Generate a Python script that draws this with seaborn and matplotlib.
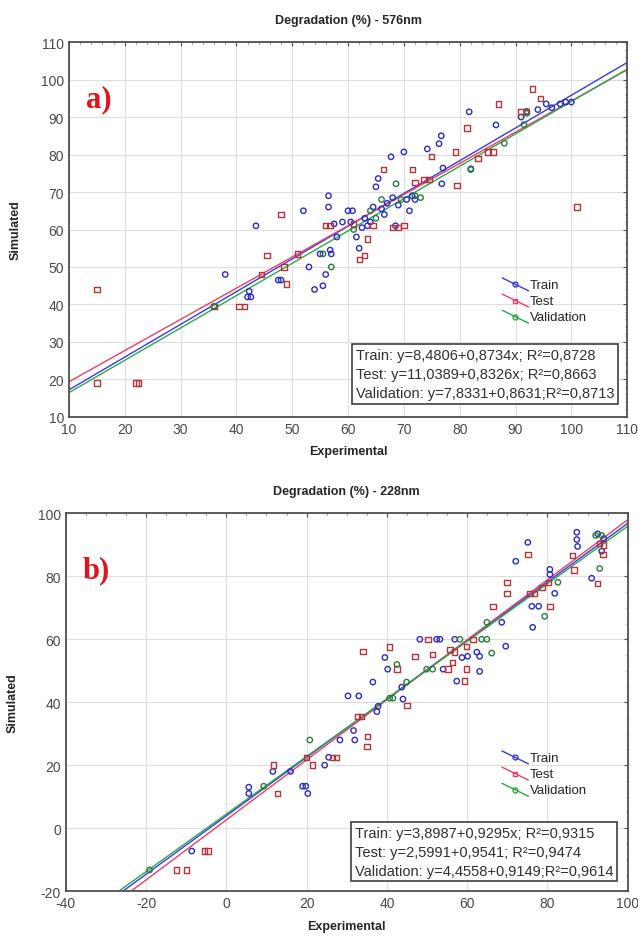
import numpy as np
import pandas as pd
import seaborn as sns
import matplotlib
matplotlib.use("Agg")
from matplotlib import pyplot as plt
from matplotlib.lines import Line2D
from matplotlib.legend_handler import HandlerBase

# ---------------- data: Degradation (%) - 576nm ----------------
a_train_x = [38, 42, 42.3, 42.6, 43.5, 47.5, 48, 52, 53, 54, 55, 55.5, 56, 56.5, 56.5, 56.8, 57, 57.5,
             58, 59, 60, 60.8, 60.5, 61.5, 62, 62.5, 63, 63.5, 64, 64.5, 65, 65.4, 66, 66.5, 67, 67.7,
             68, 68.5, 69, 70, 70.5, 71, 71.5, 72, 74.2, 76.3, 76.7, 76.8, 77, 82, 81.7, 86.5, 91, 92,
             94, 95.5, 96.5, 98, 99, 100]
a_train_y = [48, 42, 43.5, 42, 61, 46.5, 46.5, 65, 50, 44, 53.5, 45, 48, 69, 66, 54.5, 53.5, 61.5,
             58, 62, 65, 65, 62, 58, 55, 60.5, 63, 61, 62, 66, 71.4, 73.6, 65.5, 64, 67, 79.4,
             68.5, 61, 66.5, 80.7, 68, 65, 69, 68, 81.5, 82.9, 85, 72.2, 76.4, 76.2, 91.4, 87.9, 90, 91.5,
             92, 93.5, 92.5, 93.5, 94, 94]
a_test_x = [15, 15, 22, 22.5, 36, 40.5, 41.5, 44.5, 45.5, 48, 48.5, 49, 51, 56, 56.8, 61, 62, 63,
            63.5, 64.5, 66.3, 68, 69, 70, 71.5, 72, 73.6, 74.5, 74.9, 79.2, 79.5, 81.3, 83.3, 85.1,
            86, 86.9, 91, 92, 93, 94.5, 101]
a_test_y = [44, 19, 19, 19, 39.5, 39.5, 39.5, 48, 53, 64, 50, 45.5, 53.5, 61, 61, 61.5, 52, 53,
            57.5, 61, 76, 60.5, 60.5, 61, 76, 72.5, 73.3, 73.3, 79.4, 80.7, 71.7, 87.1, 79, 80.7,
            80.7, 93.5, 91.5, 91.5, 97.5, 95, 66]
a_val_x = [36, 55.5, 57, 61, 64, 65, 66, 68.6, 69.5, 72, 73, 82, 88, 91.5, 92]
a_val_y = [39.5, 53.5, 50, 60, 65, 63, 68, 72.2, 68, 69, 68.5, 76, 83, 88, 91]

# fitted lines (intercept, slope) and box text, Train / Test / Validation
a_fit = [(8.4806, 0.8734), (11.0389, 0.8326), (7.8331, 0.8631)]
a_box = ["Train: y=8,4806+0,8734x; R²=0,8728",
         "Test: y=11,0389+0,8326x; R²=0,8663",
         "Validation: y=7,8331+0,8631;R²=0,8713"]

# ---------------- data: Degradation (%) - 228nm ----------------
b_train_x = [-8.6, 5.6, 5.6, 11.6, 16, 19, 19.8, 20.3, 24.5, 25.5, 28.3, 30.3, 33, 31.7, 32, 36.5,
             37.5, 37.8, 39.5, 40.2, 43.7, 44, 48.2, 52.4, 53.2, 54, 56.9, 57.4, 58.7, 60.1, 62.4,
             63.1, 63.1, 68.6, 69.6, 72.1, 75.1, 76.1, 77.8, 76.3, 80.6, 80.6, 81.8, 87.3, 87.3,
             87.5, 91, 92.5, 94, 93.5]
b_train_y = [-7.3, 13, 11, 18, 18, 13.3, 13.3, 11, 20, 22.5, 28, 42, 42, 31, 28, 46.4,
             37, 38.7, 54.2, 50.5, 44.8, 41, 60, 60, 60, 50.5, 60, 46.7, 54.2, 54.6, 55.9,
             54.6, 49.8, 65.4, 57.8, 84.8, 90.8, 70.5, 70.5, 63.8, 82.2, 80.6, 74.6, 94, 91.7,
             89.5, 79.4, 93.5, 92, 88]
b_test_x = [-12.4, -9.9, -5.4, -4.6, 11.8, 12.8, 20, 21.5, 26.5, 27.5, 32.7, 33.7, 35.2, 35, 34,
            40.7, 42.5, 45, 47, 50.2, 51.4, 55.2, 55.7, 56.9, 56.4, 59.4, 59.9, 59.9, 61.4, 66.4,
            69.9, 69.9, 75.1, 75.6, 76.8, 78.6, 80.3, 80.6, 86.3, 86.6, 92.5, 93.8, 93, 94]
b_test_y = [-13.3, -13.3, -7.3, -7.3, 20, 11, 22.5, 20, 22.5, 22.5, 35.5, 35.5, 29.2, 26, 56.2,
            57.5, 50.5, 39, 54.6, 60, 55.2, 50.5, 56.8, 55.9, 52.7, 46.7, 57.8, 50.5, 60, 70.5,
            78.1, 74.6, 87, 74.6, 74.6, 76.5, 78.1, 70.5, 86.7, 82, 77.8, 87, 90.5, 90]
b_val_x = [-19.1, 9.3, 20.8, 40.7, 41.5, 42.5, 44.9, 49.9, 51.4, 58.2, 63.6, 64.9, 66.1, 64.9,
           79.3, 82.6, 93, 92, 93.5]
b_val_y = [-13.3, 13.3, 28, 41.3, 41.3, 52, 46.4, 50.5, 50.5, 60, 60, 60, 55.6, 65.4,
           67.3, 78.1, 82.5, 93, 93]

b_fit = [(3.8987, 0.9295), (2.5991, 0.9541), (4.4558, 0.9149)]
b_box = ["Train: y=3,8987+0,9295x; R²=0,9315",
         "Test: y=2,5991+0,9541; R²=0,9474",
         "Validation: y=4,4558+0,9149;R²=0,9614"]

groups = ["Train", "Test", "Validation"]
pt_colors = {"Train": "#2b2bc8", "Test": "#b8323a", "Validation": "#2a7d3a"}
ln_colors = {"Train": "#3a3ae0", "Test": "#e8406a", "Validation": "#2aa84a"}
markers = {"Train": "o", "Test": "s", "Validation": "o"}


class DiagHandler(HandlerBase):
    # Statistica-style legend key: slanted line with the marker in the middle
    def create_artists(self, legend, orig_handle, xdescent, ydescent, width, height, fontsize, trans):
        x0, x1 = -xdescent, -xdescent + width
        y0, y1 = -ydescent + height * 1.1, -ydescent - height * 0.3
        c = orig_handle.get_color()
        ln = Line2D([x0, x1], [y0, y1], color=c, lw=1.0, transform=trans)
        mk = Line2D([(x0 + x1) / 2], [(y0 + y1) / 2], marker=orig_handle.get_marker(), ms=3.5,
                    mfc="none", mec=c, mew=1.0, ls="none", transform=trans)
        return [ln, mk]


def make_df(tx, ty, sx, sy, vx, vy):
    parts = []
    for g, xs, ys in zip(groups, [tx, sx, vx], [ty, sy, vy]):
        parts.append(pd.DataFrame({"Experimental": xs, "Simulated": ys, "set": g}))
    return pd.concat(parts, ignore_index=True)


def panel(ax, df, fit, box, lims, ticks, title, tag, box_y, leg_y):
    xlo, xhi, ylo, yhi = lims
    # regression lines across the full x range
    for g, (b0, b1) in zip(groups, fit):
        xs = np.array([xlo, xhi])
        sns.lineplot(x=xs, y=b0 + b1 * xs, ax=ax, color=ln_colors[g], lw=1.0, zorder=2)
    for g in groups:
        d = df[df["set"] == g]
        sns.scatterplot(data=d, x="Experimental", y="Simulated", ax=ax, marker=markers[g],
                        s=15, facecolors="none", edgecolor=pt_colors[g], linewidth=1.0, zorder=3)
    ax.set_xlim(xlo, xhi)
    ax.set_ylim(ylo, yhi)
    ax.set_xticks(ticks[0])
    ax.set_yticks(ticks[1])
    ax.grid(True, color="#dedede", lw=0.8)
    ax.set_axisbelow(True)
    for sp in ax.spines.values():
        sp.set_color("#505050")
        sp.set_linewidth(1.3)
    ax.tick_params(direction="in", top=True, right=True, length=3, colors="#505050",
                   labelcolor="#4a4a4a", labelsize=10)
    ax.minorticks_on()
    ax.tick_params(which="minor", direction="in", top=True, right=True, length=1.5, colors="#707070")
    ax.set_xlabel("Experimental", fontsize=9, fontweight="bold", labelpad=7)
    ax.set_ylabel("Simulated", fontsize=9, fontweight="bold", labelpad=14)
    ax.set_title(title, fontsize=9, fontweight="bold", pad=14)
    ax.text(0.03, 0.85, tag, transform=ax.transAxes, color="#e0141e", fontsize=22,
            fontweight="bold", family="Liberation Serif", va="center")
    handles = [Line2D([], [], color=ln_colors[g], marker=markers[g]) for g in groups]
    ax.legend(handles, groups, loc="upper left", bbox_to_anchor=(0.755, leg_y),
              frameon=False, fontsize=9.5, handlelength=2.0, handletextpad=0.1, labelspacing=0.3,
              handler_map={Line2D: DiagHandler()})
    ax.text(0.514, box_y, "\n".join(box), transform=ax.transAxes, ha="left", va="bottom",
            fontsize=10.5, color="#303030", linespacing=1.45,
            bbox=dict(boxstyle="square,pad=0.25", fc="white", ec="#404040", lw=1.2))


sns.set_style("whitegrid")
plt.rcParams["font.family"] = ["Liberation Sans", "DejaVu Sans"]
plt.rcParams["axes.unicode_minus"] = False

fig = plt.figure(figsize=(6.38, 9.37), dpi=100)
ax1 = fig.add_axes([0.108, 0.554, 0.875, 0.400])
ax2 = fig.add_axes([0.103, 0.048, 0.881, 0.403])

df_a = make_df(a_train_x, a_train_y, a_test_x, a_test_y, a_val_x, a_val_y)
df_b = make_df(b_train_x, b_train_y, b_test_x, b_test_y, b_val_x, b_val_y)

panel(ax1, df_a, a_fit, a_box, (10, 110, 10, 110),
      (np.arange(10, 111, 10), np.arange(10, 111, 10)), "Degradation (%) - 576nm", "a)", 0.045, 0.40)
panel(ax2, df_b, b_fit, b_box, (-40, 100, -20, 100),
      (np.arange(-40, 101, 20), np.arange(-20, 101, 20)), "Degradation (%) - 228nm", "b)", 0.035, 0.40)

fig.savefig("out.png", dpi=100)
